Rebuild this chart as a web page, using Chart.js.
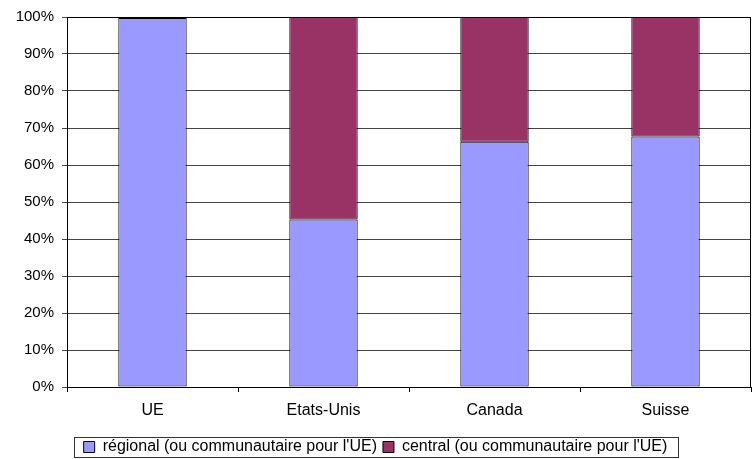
<!DOCTYPE html>
<html>
<head>
<meta charset="utf-8">
<script src="https://cdn.jsdelivr.net/npm/chart.js@4"></script>
<style>
  html, body { margin: 0; padding: 0; background: #fff; }
  #wrap { width: 752px; height: 459px; }
</style>
</head>
<body>
<div id="wrap"><canvas id="chart" width="752" height="459"></canvas></div>
<script>
// categories and shares (percent)
const categories = ['UE', 'Etats-Unis', 'Canada', 'Suisse'];
const regional = [99.7, 45.3, 66.3, 67.7];
const central = [0.3, 54.7, 33.7, 32.3];
const seriesNames = ["régional (ou communautaire pour l'UE)", "central (ou communautaire pour l'UE)"];

Chart.defaults.font.family = '"Liberation Sans", Arial, sans-serif';
Chart.defaults.font.size = 15;
Chart.defaults.color = '#000';

// frame around the plot area and around the legend items
const framePlugin = {
  id: 'frame',
  afterDraw(chart) {
    const ctx = chart.ctx;
    const a = chart.chartArea;
    ctx.save();
    ctx.strokeStyle = '#000';
    ctx.lineWidth = 1;
    ctx.strokeRect(Math.round(a.left) + 0.5, Math.round(a.top) + 0.5,
      Math.round(a.right - a.left) - 1, Math.round(a.bottom - a.top));
    const boxes = chart.legend.legendHitBoxes;
    if (boxes && boxes.length) {
      const l = Math.min(...boxes.map(b => b.left)) - 10;
      const r = Math.max(...boxes.map(b => b.left + b.width)) + 10;
      const t = Math.min(...boxes.map(b => b.top)) - 2;
      const btm = Math.max(...boxes.map(b => b.top + b.height)) + 2;
      ctx.strokeStyle = '#333';
      ctx.strokeRect(Math.round(l) + 0.5, Math.round(t) + 0.5, Math.round(r - l), Math.round(btm - t));
    }
    ctx.restore();
  }
};

new Chart(document.getElementById('chart'), {
  type: 'bar',
  data: {
    labels: categories,
    datasets: [
      {
        label: seriesNames[0],
        data: regional,
        backgroundColor: '#9999ff',
        borderColor: '#000',
        borderWidth: 1,
        borderSkipped: false,
        barPercentage: 0.4,
        categoryPercentage: 1.0
      },
      {
        label: seriesNames[1],
        data: central,
        backgroundColor: '#993366',
        borderColor: '#000',
        borderWidth: 1,
        borderSkipped: false,
        barPercentage: 0.4,
        categoryPercentage: 1.0
      }
    ]
  },
  plugins: [framePlugin],
  options: {
    responsive: false,
    animation: false,
    layout: { padding: { top: 17, right: 1, left: 0, bottom: -6 } },
    plugins: {
      legend: {
        position: 'bottom',
        labels: {
          boxWidth: 11,
          boxHeight: 11,
          padding: 6,
          color: '#000',
          font: { size: 16 }
        }
      },
      tooltip: { enabled: false }
    },
    scales: {
      x: {
        stacked: true,
        grid: {
          offset: true,
          drawOnChartArea: false,
          drawTicks: true,
          tickLength: 5,
          color: '#000'
        },
        border: { display: false },
        ticks: { padding: 9, color: '#000', font: { size: 16 } },
        afterFit: s => { s.height = 46; }
      },
      y: {
        stacked: true,
        min: 0,
        max: 100,
        grid: {
          color: '#444',
          drawTicks: true,
          tickLength: 5
        },
        border: { display: false },
        ticks: {
          stepSize: 10,
          padding: 8,
          color: '#000',
          font: { size: 15 },
          callback: v => v + '%'
        },
        afterFit: s => { s.width = 67; }
      }
    }
  }
});
</script>
</body>
</html>
